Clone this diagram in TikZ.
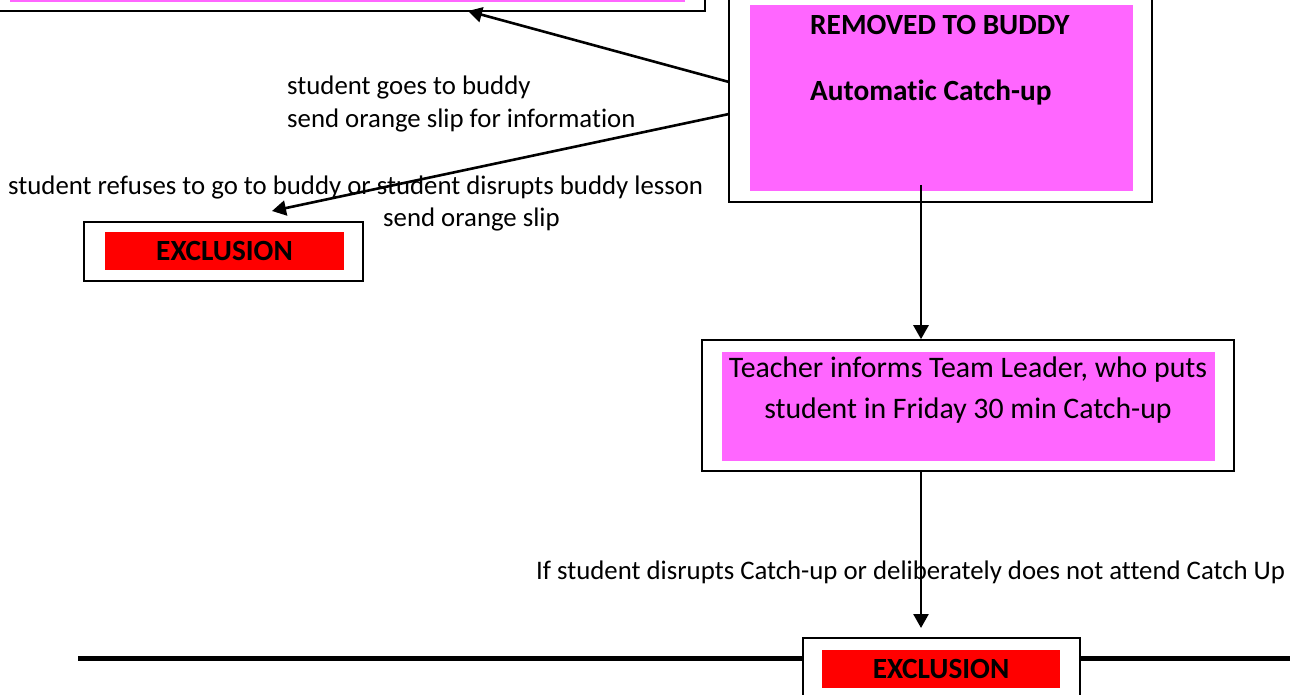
\documentclass[tikz,border=0pt]{standalone}
\usepackage{fontspec}
\setmainfont{Carlito}[Ligatures=NoCommon]
\usetikzlibrary{arrows.meta}
\definecolor{pinkfill}{RGB}{255,102,255}
\definecolor{redfill}{RGB}{255,0,0}
\begin{document}
\begin{tikzpicture}[x=1pt,y=-1pt,
  outerbox/.style={draw=black, line width=1.6pt, fill=white, inner sep=0pt},
  pinkbox/.style={fill=pinkfill, inner sep=0pt},
  redbox/.style={fill=redfill, inner sep=0pt, font=\fontsize{29.3}{32}\selectfont\bfseries},
  lbl/.style={inner sep=0pt, font=\fontsize{26.8}{33}\selectfont},
  boldlbl/.style={inner sep=0pt, font=\fontsize{29.3}{32}\selectfont\bfseries},
  arr/.style={line width=2.6pt, -{Triangle[length=14pt,width=15pt]}},
  thick line/.style={line width=5pt}
]
\clip (0,0) rectangle (1290,695);
% top-left box (cut off)
\node[outerbox, minimum width=715pt, minimum height=41pt] (top) at (347.5,-9.5) {};
\node[pinkbox, minimum width=675pt, minimum height=32pt] (toppink) at (347.5,-14) {};
% removed to buddy
\node[outerbox, minimum width=423pt, minimum height=212pt] (buddy) at (940.5,96) {};
\node[pinkbox, minimum width=383pt, minimum height=186pt] (buddypink) at (941.5,98) {};
\node[boldlbl, anchor=west] (t1) at (810,25) {REMOVED TO BUDDY};
\node[boldlbl, anchor=west] (t2) at (810,93) {Automatic Catch-up};
% exclusion 1
\node[outerbox, minimum width=279pt, minimum height=59pt] (ex1) at (223.5,251.5) {};
\node[redbox, minimum width=239pt, minimum height=38pt] (ex1red) at (224.5,251) {EXCLUSION};
% teacher
\node[outerbox, minimum width=532pt, minimum height=131pt] (teacher) at (968,405.5) {};
\node[pinkbox, minimum width=493pt, minimum height=109pt] (teacherpink) at (968.5,406.5) {};
\node[inner sep=0pt, align=center, font=\fontsize{29.8}{41}\selectfont] (t3) at (968,390) {Teacher informs Team Leader, who puts\\student in Friday 30 min Catch-up};
% bottom line and exclusion 2
\coordinate (lineL) at (78,658);
\coordinate (lineR) at (1300,658);
\node[outerbox, minimum width=277pt, minimum height=82pt] (ex2) at (941.5,679) {};
\node[redbox, minimum width=238pt, minimum height=38pt] (ex2red) at (941,669) {EXCLUSION};
\draw[thick line] (lineL) -- (ex2.west |- lineL);
\draw[thick line] (ex2.east |- lineR) -- (lineR);
% labels
\node[lbl, anchor=west] (l1) at (287,88) {student goes to buddy};
\node[lbl, anchor=west] (l2) at (287,121) {send orange slip for information};
\node[lbl, anchor=west] (l3) at (8,187) {student refuses to go to buddy or student disrupts buddy lesson};
\node[lbl, anchor=west] (l4) at (383,219) {send orange slip};
\node[lbl, anchor=west] (l5) at (536,572) {If student disrupts Catch-up or deliberately does not attend Catch Up};
% connectors
\coordinate (a1s) at (729,82);
\coordinate (a1e) at (468,11);
\coordinate (a2s) at (729,114);
\coordinate (a2e) at (272,211);
\coordinate (a3s) at (921,185);
\coordinate (a4e) at (921,628);
\draw[arr] (a1s) -- (a1e);
\draw[arr] (a2s) -- (a2e);
\draw[arr] (a3s) -- (a3s |- teacher.north);
\draw[arr] (a3s |- teacher.south) -- (a4e);
\end{tikzpicture}
\end{document}
